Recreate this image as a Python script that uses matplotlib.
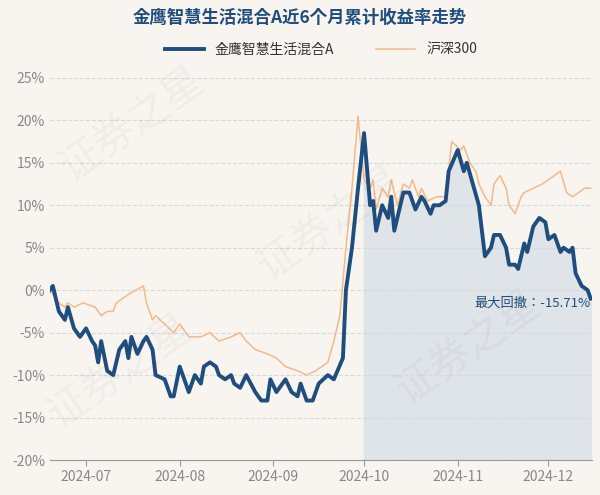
import numpy as np
import pandas as pd
import matplotlib.pyplot as plt
import matplotlib.dates as mdates
from matplotlib import font_manager

cjk = [f.name for f in font_manager.fontManager.ttflist if "CJK" in f.name and "Sans" in f.name]
cjk_name = next((n for n in cjk if "SC" in n), cjk[0] if cjk else "DejaVu Sans")
plt.rcParams["font.family"] = [cjk_name, "DejaVu Sans"]

base = pd.Timestamp("2024-07-01")

# fund: day offset from 2024-07-01, cumulative return %
fund_days = [-12, -11, -9, -7, -6, -4, -2, 0, 2, 3,
             4, 5, 7, 9, 11, 13, 14, 15, 17, 19,
             20, 22, 23, 26, 28, 29, 31, 33, 34, 36,
             38, 39, 41, 43, 44, 46, 48, 49, 51, 53,
             56, 58, 60, 61, 63, 65, 66, 68, 70, 71,
             73, 75, 77, 80, 82, 85, 86, 88, 90, 92,
             94, 95, 96, 98, 100, 101, 102, 104, 105, 107,
             109, 111, 112, 114, 115, 117, 119, 120, 123, 125,
             126, 128, 130, 132, 134, 135, 137, 139, 140, 142,
             143, 145, 146, 148, 150, 152, 153, 155, 157, 158,
             160, 161, 162, 164, 166, 167]
fund_vals = [0, 0.5, -2.5, -3.5, -2, -4.5, -5.5, -4.5, -6, -6.5,
             -8.5, -6, -9.5, -10, -7, -6, -8, -5.5, -7.5, -6,
             -5.5, -7, -10, -10.5, -12.5, -12.5, -9, -11, -12, -10,
             -11, -9, -8.5, -9, -10, -10.5, -10, -11, -11.5, -10,
             -12, -13, -13, -10.5, -12, -11, -10.5, -12, -12.5, -11,
             -13, -13, -11, -10, -10.5, -8, 0, 5, 12, 18.5,
             10, 10.5, 7, 10, 8.5, 11, 7, 10, 11.5, 11.5,
             9.5, 11, 10.5, 9, 10, 10, 10.5, 14, 16.5, 14,
             15, 12.5, 10, 4, 5, 6.5, 6.5, 5, 3, 3,
             2.5, 5.5, 4.5, 7.5, 8.5, 8, 6, 6.5, 4.5, 5,
             4.5, 5, 2, 0.5, 0, -1]

hs_days = [-12, -11, -9, -7, -6, -4, -1, 3, 5, 7,
           9, 10, 12, 14, 19, 20, 22, 23, 26, 29,
           31, 34, 38, 41, 44, 48, 51, 53, 56, 60,
           63, 66, 70, 73, 76, 80, 82, 84, 86, 88,
           90, 92, 94, 95, 96, 98, 100, 101, 103, 105,
           107, 108, 110, 111, 113, 116, 119, 121, 124, 125,
           127, 129, 130, 132, 134, 135, 137, 139, 140, 142,
           144, 145, 148, 151, 153, 155, 157, 159, 161, 163,
           165, 167]
hs_vals = [0, -0.5, -1.5, -2, -1.5, -2, -1.5, -2, -3, -2.5,
           -2.5, -1.5, -1, -0.5, 0.5, -1.5, -3.5, -3, -4, -5,
           -4, -5.5, -5.5, -5, -6, -5.5, -5, -6, -7, -7.5,
           -8, -9, -9.5, -10, -9.5, -8.5, -6, -3, 5, 12,
           20.5, 13, 12, 13, 9.5, 12, 11, 13, 10, 12.5,
           12, 13, 11, 12, 10.5, 11, 11, 17.5, 16.5, 17,
           15, 14, 12.5, 11, 10, 12.5, 13.5, 12, 10, 9,
           11, 11.5, 12, 12.5, 13, 13.5, 14, 11.5, 11, 11.5,
           12, 12]

yticks = [-20, -15, -10, -5, 0, 5, 10, 15, 20, 25]
month_ticks = ["2024-07-01", "2024-08-01", "2024-09-01", "2024-10-01", "2024-11-01", "2024-12-01"]
shade_start = pd.Timestamp("2024-10-01")

fd = base + pd.to_timedelta(fund_days, unit="D")
hd = base + pd.to_timedelta(hs_days, unit="D")
fv = np.array(fund_vals)

bg = "#f8f5f0"
fig = plt.figure(figsize=(6, 4.95), dpi=100, facecolor=bg)
ax = fig.add_axes([0.083, 0.0707, 0.904, 0.772], facecolor=bg)

mask = fd >= shade_start
ax.fill_between(fd[mask], fv[mask], -20, color="#dde3e8", alpha=0.9, zorder=1)
l1, = ax.plot(fd, fund_vals, color="#1f4e7e", lw=2.8, zorder=3, label="金鹰智慧生活混合A")
l2, = ax.plot(hd, hs_vals, color="#f4b98a", lw=1.1, zorder=2, label="沪深300")

ax.set_ylim(-20, 25)
ax.set_xlim(fd[0], fd[-1] + pd.Timedelta(days=0.5))
ax.set_yticks(yticks)
ax.set_yticklabels([f"{v}%" for v in yticks])
ax.set_xticks(pd.to_datetime(month_ticks))
ax.xaxis.set_major_formatter(mdates.DateFormatter("%Y-%m"))
ax.grid(axis="y", ls="--", color="#d9d9d9", lw=0.8)
for s in ["top", "right", "left"]:
    ax.spines[s].set_visible(False)
ax.spines["bottom"].set_color("#999999")
ax.tick_params(axis="both", colors="#888888", labelsize=10, length=0)
ax.tick_params(axis="x", length=4, color="#999999")

ax.text(fd[-1], -0.8, "最大回撤：-15.71%", ha="right", va="top", fontsize=9.5, color="#1f4e7e", zorder=4)

fig.text(0.5, 0.963, "金鹰智慧生活混合A近6个月累计收益率走势", ha="center", va="center",
         fontsize=12.5, fontweight="bold", color="#1f4e7e")
ax.legend(handles=[l1, l2], loc="upper center", bbox_to_anchor=(0.5, 1.125), ncol=2, frameon=False,
          fontsize=10, handlelength=2.8, columnspacing=3, labelcolor="#333333")

for x, y in [(0.22, 0.75), (0.55, 0.55), (0.2, 0.25), (0.78, 0.3)]:
    fig.text(x, y, "证券之星", fontsize=30, color="#000000", alpha=0.035, rotation=35,
             ha="center", va="center")

fig.savefig("out.png", dpi=100, facecolor=bg)
